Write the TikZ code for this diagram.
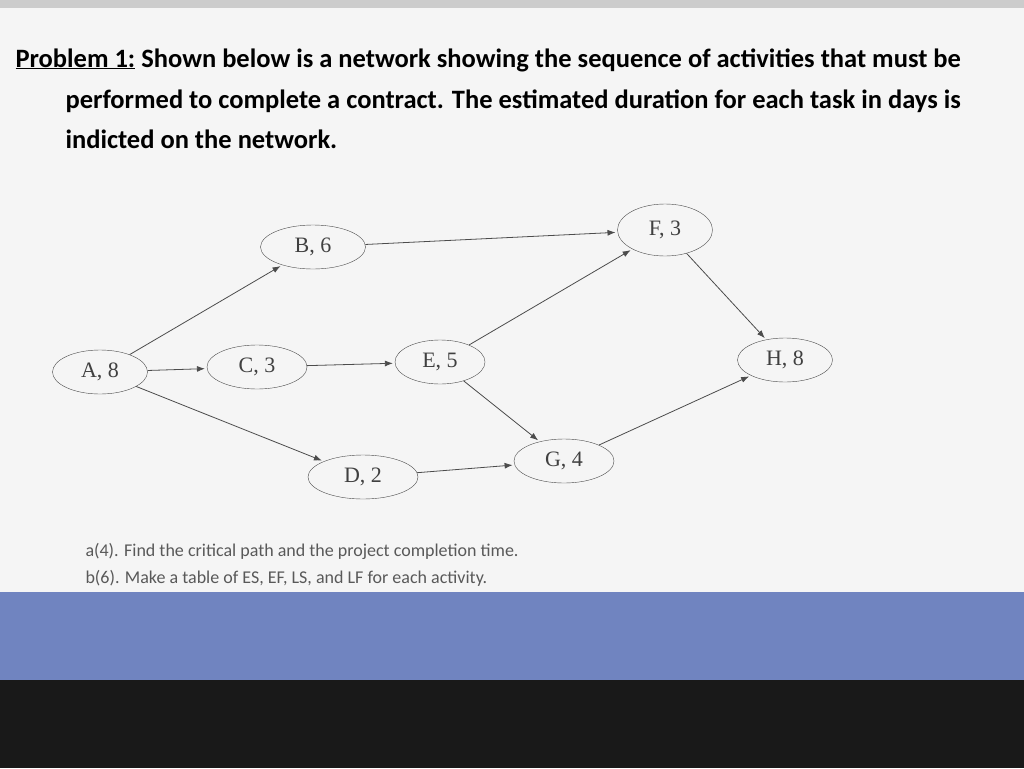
\documentclass[tikz,border=0pt]{standalone}
\usepackage{fontspec}
\setmainfont{Liberation Serif}
\newfontfamily\calib{Carlito}
\usetikzlibrary{shapes.geometric,arrows.meta}
\definecolor{band}{RGB}{112,132,192}
\begin{document}
\begin{tikzpicture}[x=1pt,y=-1pt,
  act/.style={draw=black!70,ellipse,minimum width=#1,minimum height=44pt,inner sep=0pt,font=\fontsize{22}{22}\selectfont\color{black!75}},
  arr/.style={draw=black!70,line width=0.8pt,-{Latex[length=8pt,width=6pt]},shorten >=2pt}]
\useasboundingbox (0,0) rectangle (1024,768);
\fill[white!92!gray] (0,0) rectangle (1024,768);
\fill[black!20] (0,0) rectangle (1024,8);
\fill[band] (0,592) rectangle (1024,680);
\fill[black!90] (0,680) rectangle (1024,768);
\node[anchor=west,font=\calib\bfseries\fontsize{26.5}{26}\selectfont] (t1) at (12,60) {\underline{Problem 1:} Shown below is a network showing the sequence of activities that must be};
\node[anchor=west,font=\calib\bfseries\fontsize{26.5}{26}\selectfont] (t2) at (62,101) {performed to complete a contract. The estimated duration for each task in days is};
\node[anchor=west,font=\calib\bfseries\fontsize{26.5}{26}\selectfont] (t3) at (62,139) {indicted on the network.};
\node[act=95pt] (A) at (100,372) {A, 8};
\node[act=105pt] (B) at (313,247) {B, 6};
\node[act=100pt] (C) at (257,367) {C, 3};
\node[act=90pt] (E) at (440,362) {E, 5};
\node[act=110pt] (D) at (363,477) {D, 2};
\node[act=100pt] (G) at (564,461) {G, 4};
\node[act=95pt,minimum height=52pt] (F) at (665,230) {F, 3};
\node[act=95pt] (H) at (785,360) {H, 8};
\draw[arr] (A) -- (B);
\draw[arr] (A) -- (C);
\draw[arr] (A) -- (D);
\draw[arr] (B) -- (F);
\draw[arr] (C) -- (E);
\draw[arr] (E) -- (F);
\draw[arr] (E) -- (G);
\draw[arr] (D) -- (G);
\draw[arr] (F) -- (H);
\draw[arr] (G) -- (H);
\node[anchor=west,font=\calib\fontsize{18}{18}\selectfont,text=black!65] (q1) at (82,551) {a(4). Find the critical path and the project completion time.};
\node[anchor=west,font=\calib\fontsize{18}{18}\selectfont,text=black!65] (q2) at (82,578) {b(6). Make a table of ES, EF, LS, and LF for each activity.};
\end{tikzpicture}
\end{document}
